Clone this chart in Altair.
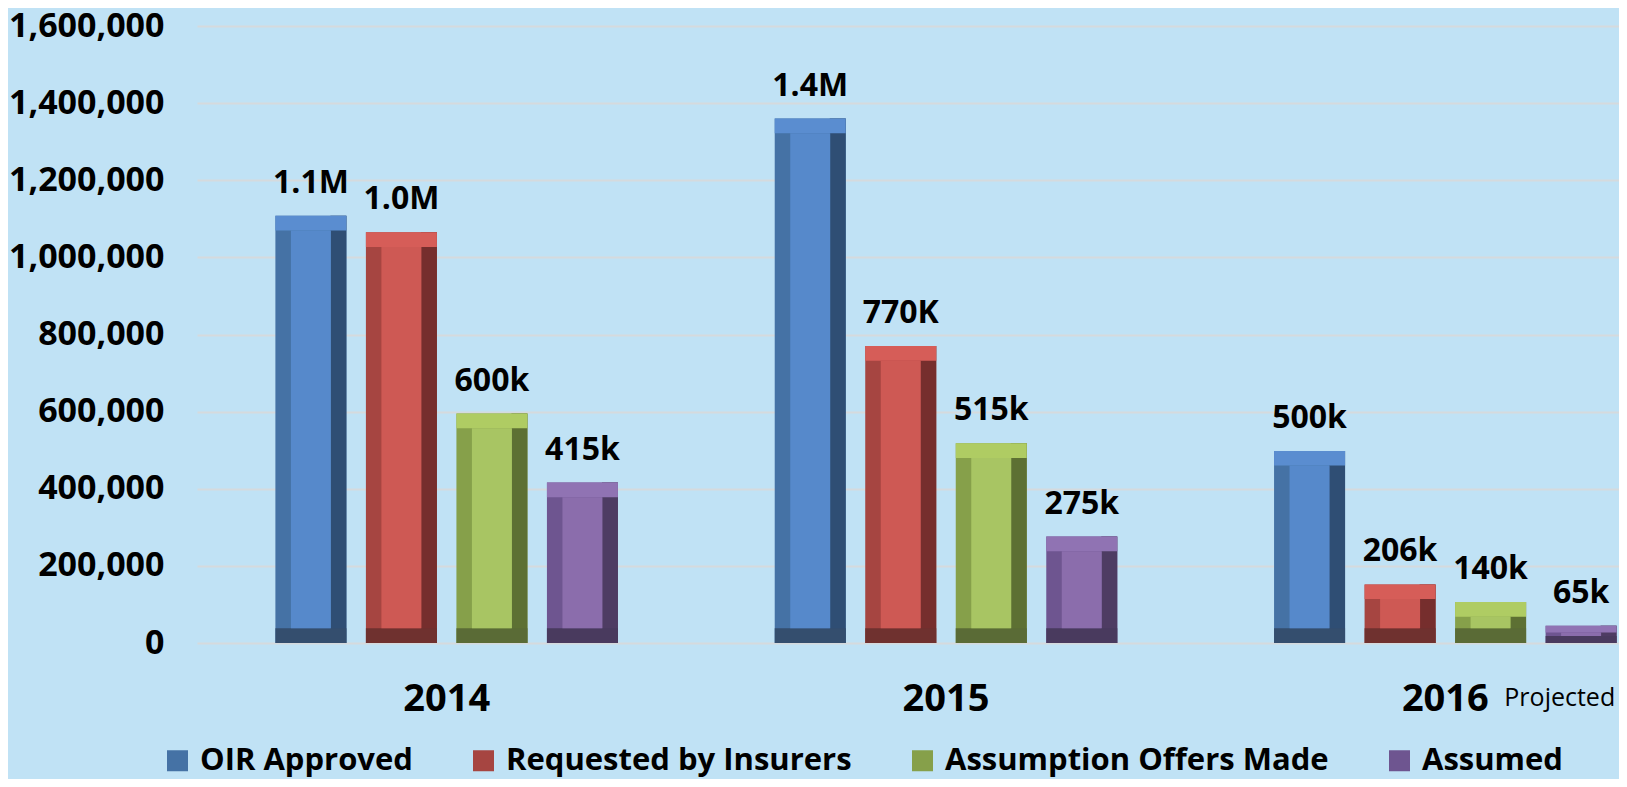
import altair as alt
import pandas as pd

# ---------------- data ----------------
years = ["2014", "2015", "2016"]
series_names = ["OIR Approved", "Requested by Insurers", "Assumption Offers Made", "Assumed"]
oir_approved = [1108000, 1360000, 498000]
requested = [1065000, 770000, 152000]
offers_made = [595000, 518000, 106000]
assumed = [416000, 276000, 45000]
oir_labels = ["1.1M", "1.4M", "500k"]
requested_labels = ["1.0M", "770K", "206k"]
offers_labels = ["600k", "515k", "140k"]
assumed_labels = ["415k", "275k", "65k"]
y_ticks = [0, 200000, 400000, 600000, 800000, 1000000, 1200000, 1400000, 1600000]
note_year = ["2016"]
note_text = ["Projected"]

# ---------------- style ----------------
FONT = "Open Sans"
face_colors = ["#5689CB", "#CE5954", "#A8C563", "#8B6DAC"]
left_colors = ["#4572A5", "#A64541", "#86A04A", "#6E5590"]
right_colors = ["#2F4E74", "#762E2D", "#5D7033", "#4E3C63"]
top_colors = ["#5A8DD0", "#D65D58", "#AFCC63", "#9073B3"]
bottom_colors = ["#344E6E", "#6F312F", "#5A6B36", "#493A5E"]

X_RANGE = 1498
BAND = X_RANGE / 3
PAD_IN = 0.2155
PAD_OUT = 0.866

rows = []
for name, vals, labs in zip(series_names,
                            [oir_approved, requested, offers_made, assumed],
                            [oir_labels, requested_labels, offers_labels, assumed_labels]):
    for yr, v, lab in zip(years, vals, labs):
        rows.append({"year": yr, "series": name, "value": v, "label": lab})
df = pd.DataFrame(rows)

base = alt.Chart(df).transform_calculate(
    bev="min(38000, datum.value * 0.4)",
    top_in="datum.value - min(38000, datum.value * 0.4)",
)

x_enc = alt.X(
    "year:N", sort=years,
    scale=alt.Scale(range=[0, X_RANGE], paddingInner=0, paddingOuter=0),
    axis=alt.Axis(title=None, labelFont=FONT, labelFontSize=38, labelFontWeight="bold",
                  labelColor="black", labelAngle=0, ticks=False, domain=False,
                  labelPadding=67, labelBaseline="alphabetic", grid=False),
)


def xo(shift=0.0):
    return alt.XOffset("series:N", sort=series_names,
                       scale=alt.Scale(type="band", range=[shift, BAND + shift],
                                       paddingInner=PAD_IN, paddingOuter=PAD_OUT))


y_scale = alt.Scale(domain=[0, 1600000])
y_axis = alt.Axis(values=y_ticks, format=",", labelExpr="format(datum.value, ',')",
                  title=None, labelFont=FONT, labelFontSize=34,
                  labelFontWeight="bold", labelColor="black", labelPadding=33, ticks=False,
                  domain=False, gridColor="#D5DADD", gridWidth=2)


def col(rng, legend=None):
    if legend is None:
        return alt.Color("series:N", sort=series_names,
                         scale=alt.Scale(domain=series_names, range=rng), legend=None)
    return alt.Color("series:N", sort=series_names,
                     scale=alt.Scale(domain=series_names, range=rng), legend=legend)


legend = alt.Legend(
    title=None, orient="none", legendX=-35, legendY=719, direction="horizontal",
    symbolType="square", symbolSize=441, symbolStrokeWidth=0, symbolOpacity=1,
    labelFont=FONT, labelFontSize=31, labelFontWeight="bold", labelColor="black",
    labelOffset=7, columnPadding=55, labelLimit=0,
)

full_bar = base.mark_bar().encode(
    x=x_enc, xOffset=xo(), y=alt.Y("value:Q", scale=y_scale, axis=y_axis),
    color=col(left_colors, legend),
)
right_strip = base.mark_bar(width=16).encode(
    x=x_enc, xOffset=xo(27.5), y=alt.Y("value:Q", scale=y_scale, axis=y_axis),
    color=col(right_colors),
)
top_strip = base.mark_bar().encode(
    x=x_enc, xOffset=xo(), y=alt.Y("value:Q", scale=y_scale, axis=y_axis),
    y2="top_in:Q", color=col(top_colors),
)
bottom_strip = base.mark_bar().encode(
    x=x_enc, xOffset=xo(), y=alt.Y("bev:Q", scale=y_scale, axis=y_axis),
    color=col(bottom_colors),
)
face_bar = base.mark_bar(width=40).encode(
    x=x_enc, xOffset=xo(), y=alt.Y("top_in:Q", scale=y_scale, axis=y_axis),
    y2="bev:Q", color=col(face_colors),
)
labels = base.mark_text(font=FONT, fontSize=32, fontWeight="bold", color="black",
                        baseline="alphabetic", dy=-23).encode(
    x=x_enc, xOffset=xo(), y=alt.Y("value:Q", scale=y_scale, axis=y_axis),
    text="label:N",
)
note = alt.Chart(pd.DataFrame({"year": note_year, "note": note_text, "zero": [0]})).mark_text(
    font=FONT, fontSize=25, color="black", align="left", baseline="alphabetic", dx=59, dy=63
).encode(
    x=x_enc, y=alt.Y("zero:Q", scale=y_scale, axis=y_axis), text="note:N",
)

chart = alt.layer(full_bar, right_strip, top_strip, bottom_strip, face_bar, labels, note).resolve_scale(
    color="independent", xOffset="independent"
).properties(
    width=1422, height=617,
    padding={"left": 189, "top": 18, "right": 0, "bottom": 136},
    autosize=alt.AutoSizeParams(type="none"),
    background="#C0E2F5",
).configure_view(stroke=None)

chart.save("out.html", embed_options={"renderer": "svg", "actions": False})
